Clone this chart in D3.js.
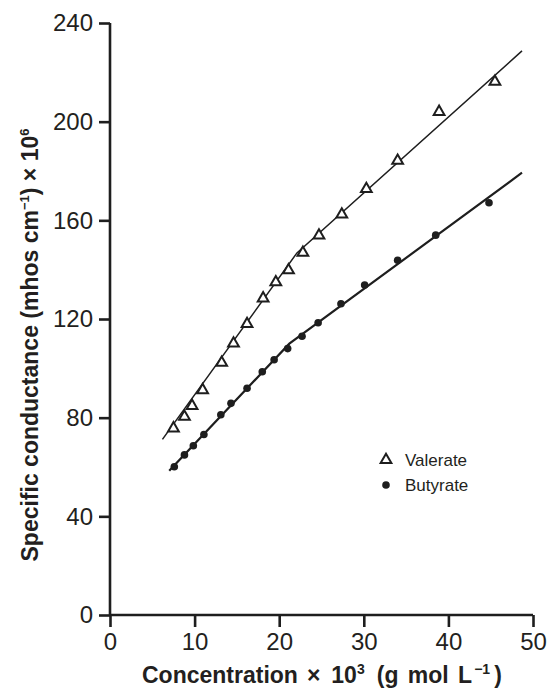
<!DOCTYPE html>
<html>
<head>
<meta charset="utf-8">
<script src="https://cdn.jsdelivr.net/npm/d3@7"></script>
<style>
  body { margin: 0; background: #fff; }
  svg { display: block; }
  text { font-family: "Liberation Sans", Arial, sans-serif; fill: #231f20; }
</style>
</head>
<body>
<svg></svg>
<script>
// data
let valX = [7.5, 8.8, 9.7, 10.95, 13.2, 14.6, 16.2, 18.1, 19.6, 21.1, 22.8, 24.7, 27.4, 30.3, 34.0, 38.9, 45.5]
let valY = [75.7, 80.4, 84.8, 91.2, 102.3, 110.1, 118.0, 128.4, 134.9, 139.8, 146.9, 153.9, 162.4, 172.7, 184.2, 204.0, 216.2]
let butX = [7.6, 8.8, 9.85, 11.1, 13.1, 14.3, 16.2, 18.0, 19.4, 21.0, 22.7, 24.6, 27.3, 30.1, 34.0, 38.5, 44.8]
let butY = [60.1, 64.9, 68.6, 73.2, 81.2, 85.8, 91.9, 98.6, 103.5, 108.0, 113.0, 118.5, 126.2, 133.8, 143.8, 154.0, 167.1]

// fitted lines (two straight pieces each)
let valFitX = [6.2, 22.1, 48.7]
let valFitY = [71.2, 146.8, 228.7]
let butFitX = [7.0, 21.2, 48.7]
let butFitY = [58.5, 110.0, 179.3]

let xTicks = [0, 10, 20, 30, 40, 50]
let yTicks = [0, 40, 80, 120, 160, 200, 240]
let seriesNames = ['Valerate', 'Butyrate']

let margin = {top: 23, right: 20, bottom: 75, left: 110}
let width = 553,
    height = 690;
let innerWidth = width - margin.left - margin.right,
    innerHeight = height - margin.top - margin.bottom;

let svg = d3.select('svg')
            .attr('width', width)
            .attr('height', height)

let g = svg.append('g')
           .attr('transform', 'translate(' + margin.left + ',' + margin.top + ')')

let xScale = d3.scaleLinear()
      .domain([0, 50])
      .range([0, innerWidth])

let yScale = d3.scaleLinear()
      .domain([0, 240])
      .range([innerHeight, 0])

// axes
let xAxis = d3.axisBottom(xScale).tickValues(xTicks).tickSize(12).tickSizeOuter(0).tickPadding(6)
let yAxis = d3.axisLeft(yScale).tickValues(yTicks).tickSize(11).tickSizeOuter(0).tickPadding(6)

let gx = g.append('g')
          .attr('transform', 'translate(0,' + innerHeight + ')')
          .call(xAxis)
let gy = g.append('g').call(yAxis)

;[gx, gy].forEach(a => {
  a.attr('font-size', 24).attr('font-family', '"Liberation Sans", Arial, sans-serif')
  a.selectAll('path, line').attr('stroke', '#1e1e1e').attr('stroke-width', 2.6)
  a.selectAll('text').attr('fill', '#231f20')
})
gx.select('.domain').attr('d', 'M0,0H' + innerWidth)
gy.select('.domain').attr('d', 'M0,0V' + innerHeight)

// fitted lines
let line = d3.line()
      .x(d => xScale(d[0]))
      .y(d => yScale(d[1]))

g.append('path')
  .datum(valFitX.map((x, i) => [x, valFitY[i]]))
  .attr('d', line)
  .attr('fill', 'none')
  .attr('stroke', '#1e1e1e')
  .attr('stroke-width', 1.5)

g.append('path')
  .datum(butFitX.map((x, i) => [x, butFitY[i]]))
  .attr('d', line)
  .attr('fill', 'none')
  .attr('stroke', '#1e1e1e')
  .attr('stroke-width', 2.2)

// markers
let tri = d3.symbol().type(d3.symbolTriangle).size(50)

g.selectAll('.val')
  .data(valX.map((x, i) => [x, valY[i]]))
  .enter()
  .append('path')
  .attr('class', 'val')
  .attr('d', tri)
  .attr('transform', d => 'translate(' + xScale(d[0]) + ',' + yScale(d[1]) + ')')
  .attr('fill', '#fff')
  .attr('stroke', '#1e1e1e')
  .attr('stroke-width', 2)

g.selectAll('.but')
  .data(butX.map((x, i) => [x, butY[i]]))
  .enter()
  .append('circle')
  .attr('class', 'but')
  .attr('cx', d => xScale(d[0]))
  .attr('cy', d => yScale(d[1]))
  .attr('r', 3.8)
  .attr('fill', '#1e1e1e')

// legend
let legend = svg.append('g').attr('transform', 'translate(386,460)')
legend.append('path')
  .attr('d', tri)
  .attr('fill', '#fff')
  .attr('stroke', '#1e1e1e')
  .attr('stroke-width', 2)
legend.append('circle')
  .attr('cy', 25)
  .attr('r', 3.8)
  .attr('fill', '#1e1e1e')
legend.selectAll('text')
  .data(seriesNames)
  .enter()
  .append('text')
  .attr('x', 19)
  .attr('y', (d, i) => i * 25 + 6)
  .style('font-size', '17px')
  .text(d => d)

// axis titles
let xt = svg.append('text')
  .attr('x', 142)
  .attr('y', 683)
  .style('font-size', '23px')
  .style('font-weight', 'bold')
  .style('word-spacing', '3px')
xt.append('tspan').text('Concentration')
xt.append('tspan').attr('dx', 9).text('×')
xt.append('tspan').attr('dx', 11).text('10')
xt.append('tspan').attr('dy', -9).style('font-size', '14px').text('3')
xt.append('tspan').attr('dx', 12).attr('dy', 9).text('(g mol L')
xt.append('tspan').attr('dx', 2).attr('dy', -9).style('font-size', '14px').text('\u22121')
xt.append('tspan').attr('dx', 4).attr('dy', 9).text(')')

let yt = svg.append('text')
  .attr('transform', 'translate(38,345) rotate(-90)')
  .attr('text-anchor', 'middle')
  .style('font-size', '23px')
  .style('font-weight', 'bold')
yt.append('tspan').text('Specific conductance (mhos cm')
yt.append('tspan').attr('dy', -9).style('font-size', '13px').text('\u22121')
yt.append('tspan').attr('dy', 9).text(') × 10')
yt.append('tspan').attr('dy', -9).style('font-size', '13px').text('6')
</script>
</body>
</html>
